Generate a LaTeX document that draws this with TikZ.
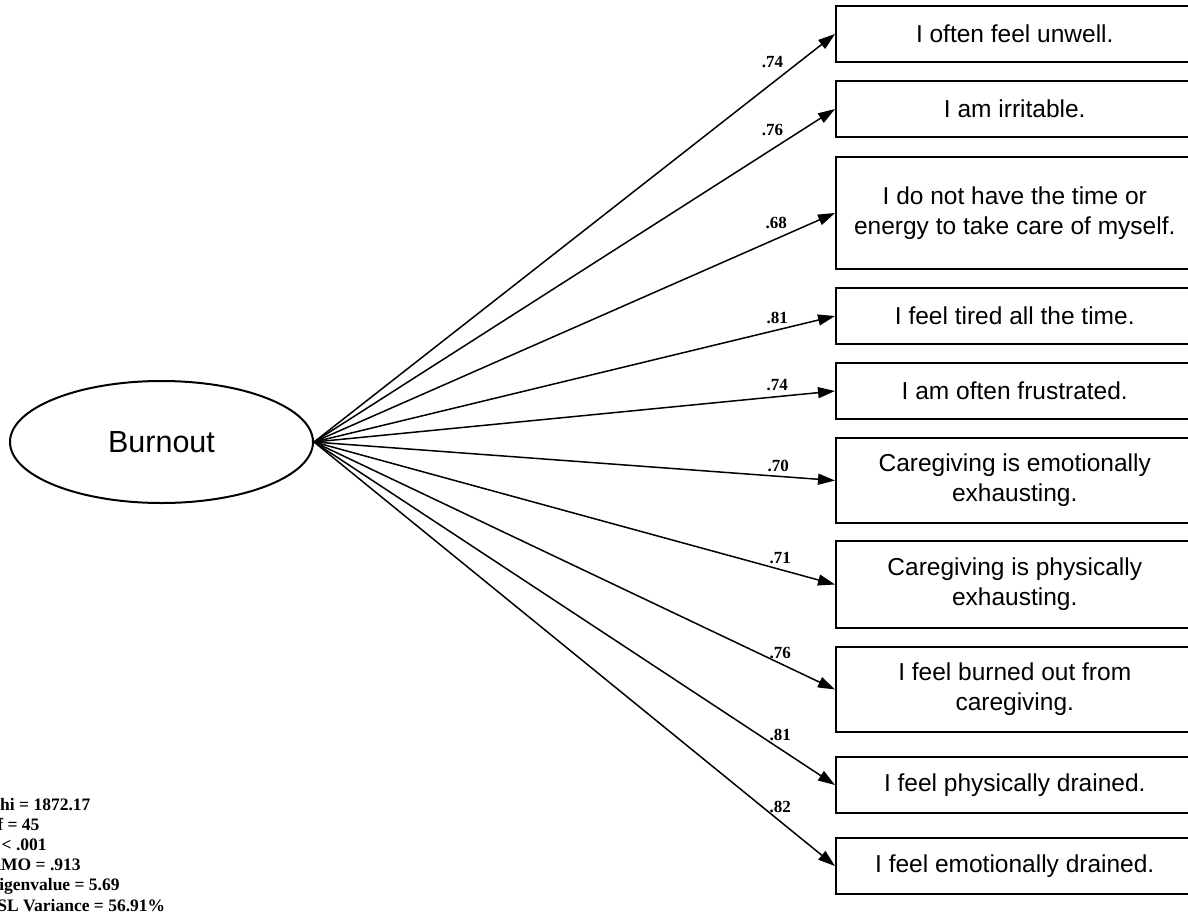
\documentclass[tikz,border=0pt]{standalone}
\usepackage{fontspec}
\setmainfont{Liberation Serif}
\setsansfont{Liberation Sans}
\usetikzlibrary{arrows.meta}
\usetikzlibrary{shapes.geometric}

\begin{document}
\begin{tikzpicture}[x=1pt,y=-1pt,
  item/.style={draw,line width=1.5pt,anchor=west,minimum width=358pt,inner sep=0pt,align=center,font=\sffamily\fontsize{24.5}{30}\selectfont},
  load/.style={-{Triangle[length=17pt,width=11pt]},line width=1.5pt},
  coef/.style={inner sep=0pt,font=\bfseries\fontsize{17}{17}\selectfont}]
\useasboundingbox (0,0) rectangle (1188,913);
\clip (0,0) rectangle (1188,913);

\node[draw,ellipse,line width=2pt,minimum width=303pt,minimum height=122pt,inner sep=0pt,font=\sffamily\fontsize{30.5}{31}\selectfont] (burnout) at (161.5,442) {Burnout};

\node[item,minimum height=56pt] (i1) at (835,34) {I often feel unwell.};
\node[item,minimum height=56pt] (i2) at (835,109) {I am irritable.};
\node[item,minimum height=112pt] (i3) at (835,213) {I do not have the time or\\energy to take care of myself.};
\node[item,minimum height=56pt] (i4) at (835,316) {I feel tired all the time.};
\node[item,minimum height=56pt] (i5) at (835,391) {I am often frustrated.};
\node[item,minimum height=85pt] (i6) at (835,480.5) {Caregiving is emotionally\\exhausting.};
\node[item,minimum height=87pt] (i7) at (835,584.5) {Caregiving is physically\\exhausting.};
\node[item,minimum height=85pt] (i8) at (835,689.5) {I feel burned out from\\caregiving.};
\node[item,minimum height=56pt] (i9) at (835,785) {I feel physically drained.};
\node[item,minimum height=56pt] (i10) at (835,866) {I feel emotionally drained.};

\draw[load] (burnout.east) -- node[coef,pos=0.88,above=14.5pt] (l1) {.74} (i1.west);
\draw[load] (burnout.east) -- node[coef,pos=0.88,above=12.5pt] (l2) {.76} (i2.west);
\draw[load] (burnout.east) -- node[coef,pos=0.887,above=9pt] (l3) {.68} (i3.west);
\draw[load] (burnout.east) -- node[coef,pos=0.889,above=6pt] (l4) {.81} (i4.west);
\draw[load] (burnout.east) -- node[coef,pos=0.889,above=5.5pt] (l5) {.74} (i5.west);
\draw[load] (burnout.east) -- node[coef,pos=0.891,above=4pt] (l6) {.70} (i6.west);
\draw[load] (burnout.east) -- node[coef,pos=0.895,above=5.5pt] (l7) {.71} (i7.west);
\draw[load] (burnout.east) -- node[coef,pos=0.895,above=4.5pt] (l8) {.76} (i8.west);
\draw[load] (burnout.east) -- node[coef,pos=0.895,above=8pt] (l9) {.81} (i9.west);
\draw[load] (burnout.east) -- node[coef,pos=0.895,above=8.5pt] (l10) {.82} (i10.west);

\node[anchor=base west,align=left,inner sep=0pt,font=\bfseries\fontsize{17.5}{20.2}\selectfont] (stats) at (-12.6,911) {Chi = 1872.17\\df = 45\\p < .001\\KMO = .913\\Eigenvalue = 5.69\\SSL Variance = 56.91\%};

\end{tikzpicture}
\end{document}
